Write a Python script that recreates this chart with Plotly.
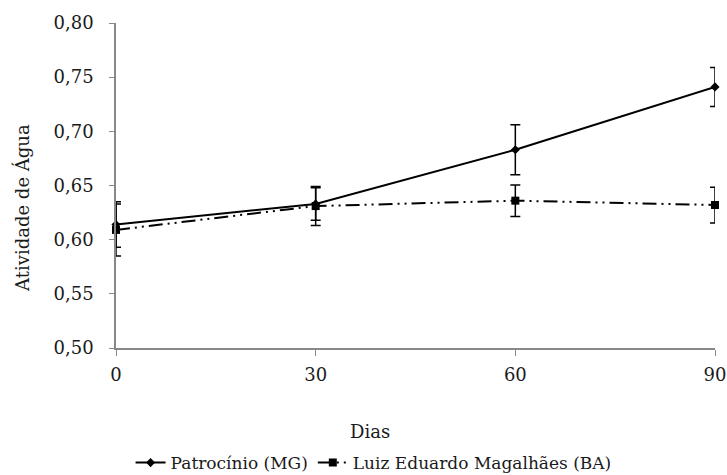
import plotly.graph_objects as go

dias = [0, 30, 60, 90]
patrocinio = [0.614, 0.633, 0.683, 0.741]
patrocinio_err = [0.021, 0.015, 0.023, 0.018]
lem = [0.609, 0.631, 0.636, 0.632]
lem_err = [0.024, 0.018, 0.0145, 0.0165]
y_ticks = [0.50, 0.55, 0.60, 0.65, 0.70, 0.75, 0.80]
y_labels = ["0,50", "0,55", "0,60", "0,65", "0,70", "0,75", "0,80"]
x_ticks = [0, 30, 60, 90]

FF = "DejaVu Serif"
TC = "#1a1a1a"

fig = go.Figure()
fig.add_trace(go.Scatter(
    x=dias, y=patrocinio, name="Patrocínio (MG)", mode="lines+markers",
    line=dict(color="black", width=2),
    marker=dict(symbol="diamond", size=7, color="black"),
    error_y=dict(type="data", array=patrocinio_err, color="black", thickness=1.5, width=5),
    cliponaxis=False,
))
fig.add_trace(go.Scatter(
    x=dias, y=lem, name="Luiz Eduardo Magalhães (BA)", mode="lines+markers",
    line=dict(color="black", width=2, dash="14px,5px,2px,5px,2px,5px"),
    marker=dict(symbol="square", size=8, color="black"),
    error_y=dict(type="data", array=lem_err, color="black", thickness=1.5, width=5),
    cliponaxis=False,
))

fig.update_layout(
    width=727, height=475,
    margin=dict(l=116, r=12, t=23, b=127, autoexpand=False),
    paper_bgcolor="white", plot_bgcolor="white",
    font=dict(family=FF, size=17, color=TC),
    showlegend=True,
    legend=dict(orientation="h", x=0.43, xanchor="center", y=-0.354, yanchor="middle",
                font=dict(family=FF, size=17, color=TC), tracegroupgap=0),
    xaxis=dict(
        range=[0, 90], tickvals=x_ticks, ticks="outside", ticklen=6, tickcolor="#888",
        showline=True, linecolor="#888", linewidth=1.5, showgrid=False, zeroline=False,
        automargin=False, ticklabelstandoff=4,
        tickfont=dict(family=FF, size=18, color=TC),
    ),
    yaxis=dict(
        range=[0.50, 0.80], tickvals=y_ticks, ticktext=y_labels, ticks="outside", ticklen=5,
        tickcolor="#888", showline=True, linecolor="#888", linewidth=1.5, showgrid=False,
        zeroline=False, automargin=False, ticklabelstandoff=12,
        tickfont=dict(family=FF, size=18, color=TC),
    ),
    annotations=[
        dict(text="Dias", xref="paper", yref="paper", x=0.424, y=-0.258,
             xanchor="center", yanchor="middle", showarrow=False,
             font=dict(family=FF, size=18, color=TC)),
        dict(text="Atividade de Água", xref="paper", yref="paper", x=-0.157, y=0.431,
             xanchor="center", yanchor="middle", textangle=-90, showarrow=False,
             font=dict(family=FF, size=18, color=TC)),
    ],
)

fig.write_html("out.html", config={"displayModeBar": False},
               post_script="document.body.style.margin='0';document.body.style.overflow='hidden';")
